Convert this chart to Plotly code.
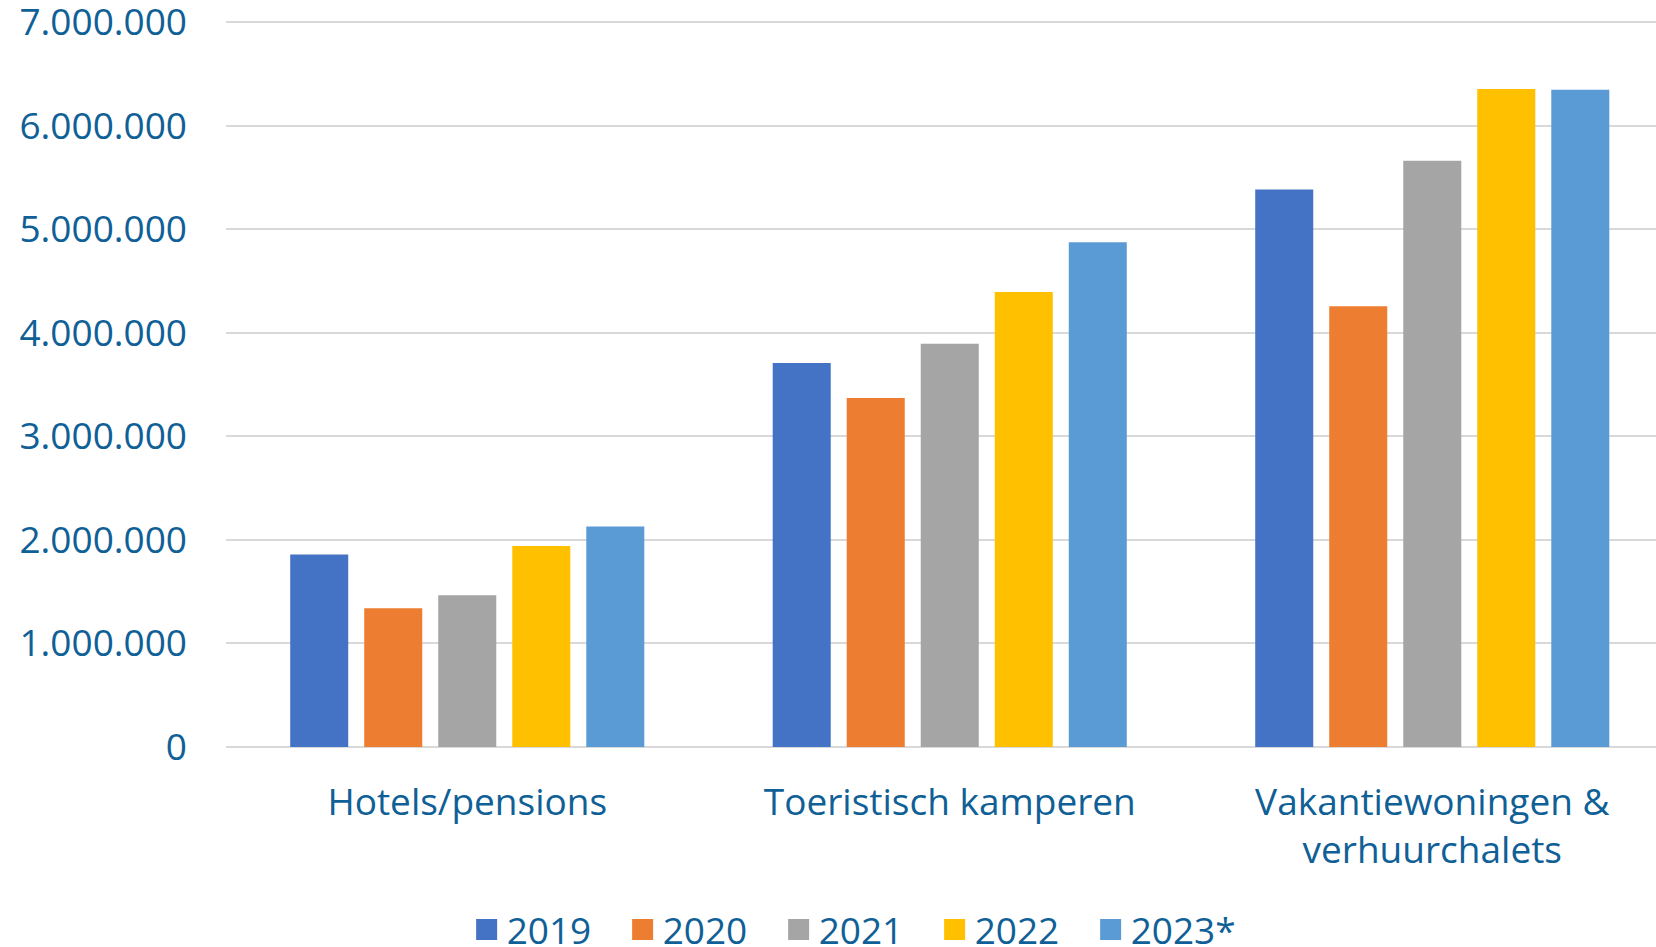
import plotly.graph_objects as go

categories = ["Hotels/pensions", "Toeristisch kamperen", "Vakantiewoningen &<br>verhuurchalets"]
years = ["2019", "2020", "2021", "2022", "2023*"]
values_2019 = [1858000, 3708000, 5384000]
values_2020 = [1340000, 3371000, 4255000]
values_2021 = [1465000, 3895000, 5661000]
values_2022 = [1942000, 4394000, 6353000]
values_2023 = [2128000, 4873000, 6346000]
series = [values_2019, values_2020, values_2021, values_2022, values_2023]
colors = ["#4472C4", "#ED7D31", "#A5A5A5", "#FFC000", "#5B9BD5"]
y_ticks = [0, 1000000, 2000000, 3000000, 4000000, 5000000, 6000000, 7000000]
y_tick_labels = ["0", "1.000.000", "2.000.000", "3.000.000", "4.000.000",
                 "5.000.000", "6.000.000", "7.000.000"]

TEXT = "#0F6096"
FONT = "Open Sans"

fig = go.Figure()
for name, vals, col in zip(years, series, colors):
    fig.add_trace(go.Bar(x=categories, y=vals, name=name, legendgroup=name,
                         showlegend=False,
                         marker=dict(color=col, line=dict(width=0))))
# legend entries (larger square keys)
for name, col in zip(years, colors):
    fig.add_trace(go.Scatter(x=[categories[0]], y=[None], name=name, legendgroup=name,
                             mode="markers", showlegend=True, hoverinfo="skip",
                             marker=dict(symbol="square", size=16, color=col,
                                         line=dict(width=5, color=col))))

fig.update_layout(
    width=1656, height=947,
    margin=dict(l=226, r=0, t=20, b=200, autoexpand=False),
    paper_bgcolor="white", plot_bgcolor="white",
    barmode="group", bargap=0.233, bargroupgap=0.216,
    font=dict(family=FONT, size=37, color=TEXT),
    showlegend=True,
    legend=dict(orientation="h", x=0.441, xanchor="center", y=-0.2517, yanchor="middle",
                font=dict(family=FONT, size=37, color=TEXT),
                entrywidth=111, traceorder="normal", itemclick=False),
)
fig.update_xaxes(range=[-0.5, 2.4637], showgrid=False, showline=False, zeroline=False,
                 automargin=False, ticks="",
                 tickfont=dict(family=FONT, size=37, color=TEXT),
                 ticklabelstandoff=30)
fig.update_yaxes(range=[0, 7020000], tickvals=y_ticks, ticktext=y_tick_labels,
                 automargin=False, ticklabeloverflow="allow",
                 showgrid=True, gridcolor="#D9D9D9", gridwidth=2,
                 zeroline=True, zerolinecolor="#D9D9D9", zerolinewidth=2,
                 showline=False, ticks="", ticklabelstandoff=38,
                 tickfont=dict(family=FONT, size=37, color=TEXT))

fig.write_html("out.html", config={"displayModeBar": False},
               post_script="document.body.style.margin='0';document.body.style.overflow='hidden';")
